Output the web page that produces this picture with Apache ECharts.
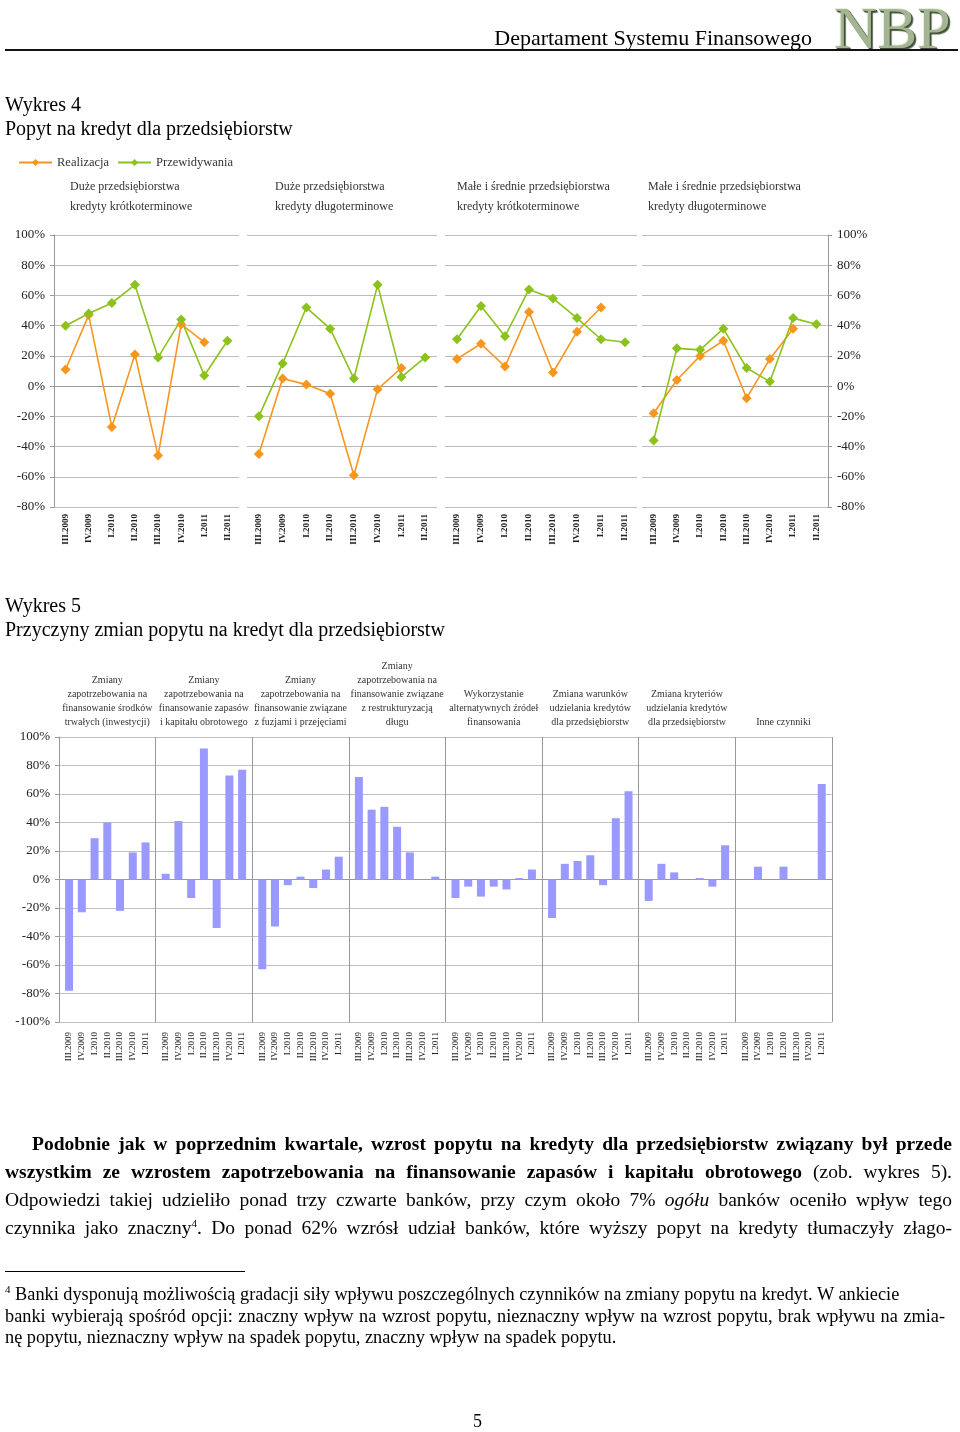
<!DOCTYPE html>
<html><head><meta charset="utf-8">
<script src="https://cdn.jsdelivr.net/npm/echarts@6/dist/echarts.min.js"></script>
<style>
body{margin:0;background:#fff;}
#page{position:relative;width:960px;height:1432px;overflow:hidden;font-family:'Liberation Serif','Times New Roman',serif;color:#000;}
#chart{position:absolute;left:0;top:0;width:960px;height:1432px;}
.t{position:absolute;white-space:nowrap;}
.para{position:absolute;left:5px;width:947px;font-size:19.5px;line-height:28px;}
.ln{text-align:justify;text-align-last:justify;height:28px;}
.foot{position:absolute;left:5px;width:940px;font-size:18.3px;line-height:21.5px;}
.fl{text-align:justify;text-align-last:justify;height:21.5px;}
sup{font-size:11px;line-height:0;vertical-align:super;}
</style></head><body>
<div id="page">
<div id="chart"></div>
<div class="t" style="right:148px;top:25px;font-size:22px;line-height:26px;">Departament Systemu Finansowego</div>
<div class="t" style="left:834px;top:-3px;font-size:60px;line-height:62px;color:#a3b593;text-shadow:1px 1px 0 #3d4a35,2px 2px 1px #55634a,-1px -1px 0 #e8efe0;">NBP</div>
<div style="position:absolute;left:5px;top:49px;width:953px;height:2px;background:#111;"></div>
<div class="t" style="left:5px;top:92px;font-size:20px;line-height:24px;">Wykres 4</div>
<div class="t" style="left:5px;top:116px;font-size:20px;line-height:24px;">Popyt na kredyt dla przedsiębiorstw</div>
<div class="t" style="left:5px;top:593px;font-size:20px;line-height:24px;">Wykres 5</div>
<div class="t" style="left:5px;top:617px;font-size:20px;line-height:24px;">Przyczyny zmian popytu na kredyt dla przedsiębiorstw</div>
<div class="para" style="top:1130px;">
<div class="ln" style="padding-left:27px;"><b>Podobnie jak w poprzednim kwartale, wzrost popytu na kredyty dla przedsiębiorstw związany był przede</b></div>
<div class="ln"><b>wszystkim ze wzrostem zapotrzebowania na finansowanie zapasów i kapitału obrotowego</b> (zob. wykres 5).</div>
<div class="ln">Odpowiedzi takiej udzieliło ponad trzy czwarte banków, przy czym około 7% <i>ogółu</i> banków oceniło wpływ tego</div>
<div class="ln">czynnika jako znaczny<sup>4</sup>. Do ponad 62% wzrósł udział banków, które wyższy popyt na kredyty tłumaczyły złago-</div>
</div>
<div style="position:absolute;left:5px;top:1271px;width:240px;height:1px;background:#000;"></div>
<div class="foot" style="top:1284px;">
<div style="height:21.5px;white-space:nowrap;"><sup>4</sup> Banki dysponują możliwością gradacji siły wpływu poszczególnych czynników na zmiany popytu na kredyt. W ankiecie</div>
<div class="fl">banki wybierają spośród opcji: znaczny wpływ na wzrost popytu, nieznaczny wpływ na wzrost popytu, brak wpływu na zmia-</div>
<div style="height:21.5px;white-space:nowrap;">nę popytu, nieznaczny wpływ na spadek popytu, znaczny wpływ na spadek popytu.</div>
</div>
<div class="t" style="left:473px;top:1409px;font-size:18px;line-height:24px;">5</div>
</div>
<script>
// ---------- Wykres 4 data ----------
const quarters = ['III.2009','IV.2009','I.2010','II.2010','III.2010','IV.2010','I.2011','II.2011'];
const panelTitles4 = [
  'Duże przedsiębiorstwa\nkredyty krótkoterminowe',
  'Duże przedsiębiorstwa\nkredyty długoterminowe',
  'Małe i średnie przedsiębiorstwa\nkredyty krótkoterminowe',
  'Małe i średnie przedsiębiorstwa\nkredyty długoterminowe'
];
const realDuzeKrotko = [11, 47, -27, 21, -46, 41, 29, null];
const przewDuzeKrotko = [40, 48, 55, 67, 19, 44, 7, 30];
const realDuzeDlugo = [-45, 5, 1, -5, -59, -2, 12, null];
const przewDuzeDlugo = [-20, 15, 52, 38, 5, 67, 6, 19];
const realMspKrotko = [18, 28, 13, 49, 9, 36, 52, null];
const przewMspKrotko = [31, 53, 33, 64, 58, 45, 31, 29];
const realMspDlugo = [-18, 4, 20, 30, -8, 18, 38, null];
const przewMspDlugo = [-36, 25, 24, 38, 12, 3, 45, 41];

// ---------- Wykres 5 data ----------
const quarters7 = ['III.2009','IV.2009','I.2010','II.2010','III.2010','IV.2010','I.2011'];
const factorTitles = [
  'Zmiany\nzapotrzebowania na\nfinansowanie środków\ntrwałych (inwestycji)',
  'Zmiany\nzapotrzebowania na\nfinansowanie zapasów\ni kapitału obrotowego',
  'Zmiany\nzapotrzebowania na\nfinansowanie związane\nz fuzjami i przejęciami',
  'Zmiany\nzapotrzebowania na\nfinansowanie związane\nz restrukturyzacją\ndługu',
  'Wykorzystanie\nalternatywnych źródeł\nfinansowania',
  'Zmiana warunków\nudzielania kredytów\ndla przedsiębiorstw',
  'Zmiana kryteriów\nudzielania kredytów\ndla przedsiębiorstw',
  'Inne czynniki'
];
const srodkiTrwale = [-78, -23, 29, 40, -22, 19, 26];
const zapasyKapital = [4, 41, -13, 92, -34, 73, 77];
const fuzjePrzejecia = [-63, -33, -4, 2, -6, 7, 16];
const restrukturyzacja = [72, 49, 51, 37, 19, 0, 2];
const alternatywneZrodla = [-13, -5, -12, -5, -7, 1, 7];
const warunkiKredytow = [-27, 11, 13, 17, -4, 43, 62];
const kryteriaKredytow = [-15, 11, 5, 0, 1, -5, 24];
const inneCzynniki = [0, 9, 0, 9, 0, 0, 67];

const realData = [realDuzeKrotko, realDuzeDlugo, realMspKrotko, realMspDlugo];
const przewData = [przewDuzeKrotko, przewDuzeDlugo, przewMspKrotko, przewMspDlugo];
const factorData = [srodkiTrwale, zapasyKapital, fuzjePrzejecia, restrukturyzacja, alternatywneZrodla, warunkiKredytow, kryteriaKredytow, inneCzynniki];

const serif = "'Liberation Serif', 'Times New Roman', serif";
const ORANGE = '#F7961E', GREEN = '#8CC21E', BAR = '#9999FF';
const grids = [], xAxes = [], yAxes = [], series = [], graphics = [];

// Wykres 4 panels
const p1Left = [54, 247, 445, 642], p1Width = [185, 190, 192, 186];
const titleX4 = [70, 275, 457, 648];
for (let i = 0; i < 4; i++) {
  const showY = (i === 0 || i === 3);
  grids.push({left: p1Left[i], top: 235, width: p1Width[i], height: 272});
  xAxes.push({gridIndex: i, type: 'category', data: quarters,
    axisLine: {lineStyle: {color: '#999'}}, axisTick: {length: 4, lineStyle: {color: '#999'}},
    axisLabel: {rotate: 90, interval: 0, fontSize: 9, fontWeight: 'bold', fontFamily: serif, color: '#222', margin: 7}});
  yAxes.push({gridIndex: i, type: 'value', min: -80, max: 100, interval: 20, position: i === 3 ? 'right' : 'left',
    axisLine: {show: showY, lineStyle: {color: '#999'}}, axisTick: {show: showY, length: 4, lineStyle: {color: '#999'}},
    axisLabel: {show: showY, formatter: '{value}%', fontSize: 13, fontFamily: serif, color: '#222', margin: 9},
    splitLine: {lineStyle: {color: '#bdbdbd'}}});
  series.push({name: 'Realizacja', type: 'line', xAxisIndex: i, yAxisIndex: i, data: realData[i],
    symbol: 'diamond', symbolSize: 10, itemStyle: {color: ORANGE}, lineStyle: {color: ORANGE, width: 1.6}});
  series.push({name: 'Przewidywania', type: 'line', xAxisIndex: i, yAxisIndex: i, data: przewData[i],
    symbol: 'diamond', symbolSize: 10, itemStyle: {color: GREEN}, lineStyle: {color: GREEN, width: 1.6}});
  graphics.push({type: 'text', left: titleX4[i], top: 177, silent: true,
    style: {text: panelTitles4[i], font: '12px ' + serif, fill: '#333', lineHeight: 20}});
}

// Wykres 5 background frame
const p2Left = 59, p2W = 96.6, p2Top = 737, p2H = 285;
grids.push({left: p2Left, top: p2Top, width: p2W * 8, height: p2H});
xAxes.push({gridIndex: 4, type: 'value', min: 0, max: 8, interval: 1,
  axisLine: {show: true, lineStyle: {color: '#999'}}, axisTick: {show: false}, axisLabel: {show: false},
  splitLine: {show: true, lineStyle: {color: '#999'}}});
yAxes.push({gridIndex: 4, type: 'value', min: -100, max: 100, interval: 20,
  axisLine: {show: true, lineStyle: {color: '#999'}}, axisTick: {show: true, length: 4, lineStyle: {color: '#999'}},
  axisLabel: {formatter: '{value}%', fontSize: 13, fontFamily: serif, color: '#222', margin: 9},
  splitLine: {lineStyle: {color: '#c0c0c0'}}});
series.push({type: 'line', xAxisIndex: 4, yAxisIndex: 4, data: [], silent: true});

for (let j = 0; j < 8; j++) {
  const gi = 5 + j;
  grids.push({left: p2Left + j * p2W + 3.7, top: p2Top, width: p2W - 7.4, height: p2H});
  xAxes.push({gridIndex: gi, type: 'category', data: quarters7,
    axisLine: {show: false}, axisTick: {show: false},
    axisLabel: {rotate: 90, interval: 0, fontSize: 9, fontFamily: serif, color: '#222', margin: 10}});
  yAxes.push({gridIndex: gi, type: 'value', min: -100, max: 100, show: false});
  series.push({name: factorTitles[j], type: 'bar', xAxisIndex: gi, yAxisIndex: gi, data: factorData[j],
    barWidth: 8, itemStyle: {color: BAR}});
  graphics.push({type: 'text', x: p2Left + j * p2W + p2W / 2, y: 729, silent: true,
    style: {text: factorTitles[j], font: '10px ' + serif, fill: '#333', lineHeight: 14,
      textAlign: 'center', textVerticalAlign: 'bottom', align: 'center', verticalAlign: 'bottom'}});
}

const chart = echarts.init(document.getElementById('chart'));
chart.setOption({
  animation: false,
  backgroundColor: 'transparent',
  legend: {data: ['Realizacja', 'Przewidywania'], left: 18, top: 156, padding: 0, itemWidth: 33, itemHeight: 9, itemGap: 8,
    textStyle: {fontFamily: serif, fontSize: 12.5, color: '#333'}},
  grid: grids, xAxis: xAxes, yAxis: yAxes, series: series, graphic: graphics
});
</script>
</body></html>
